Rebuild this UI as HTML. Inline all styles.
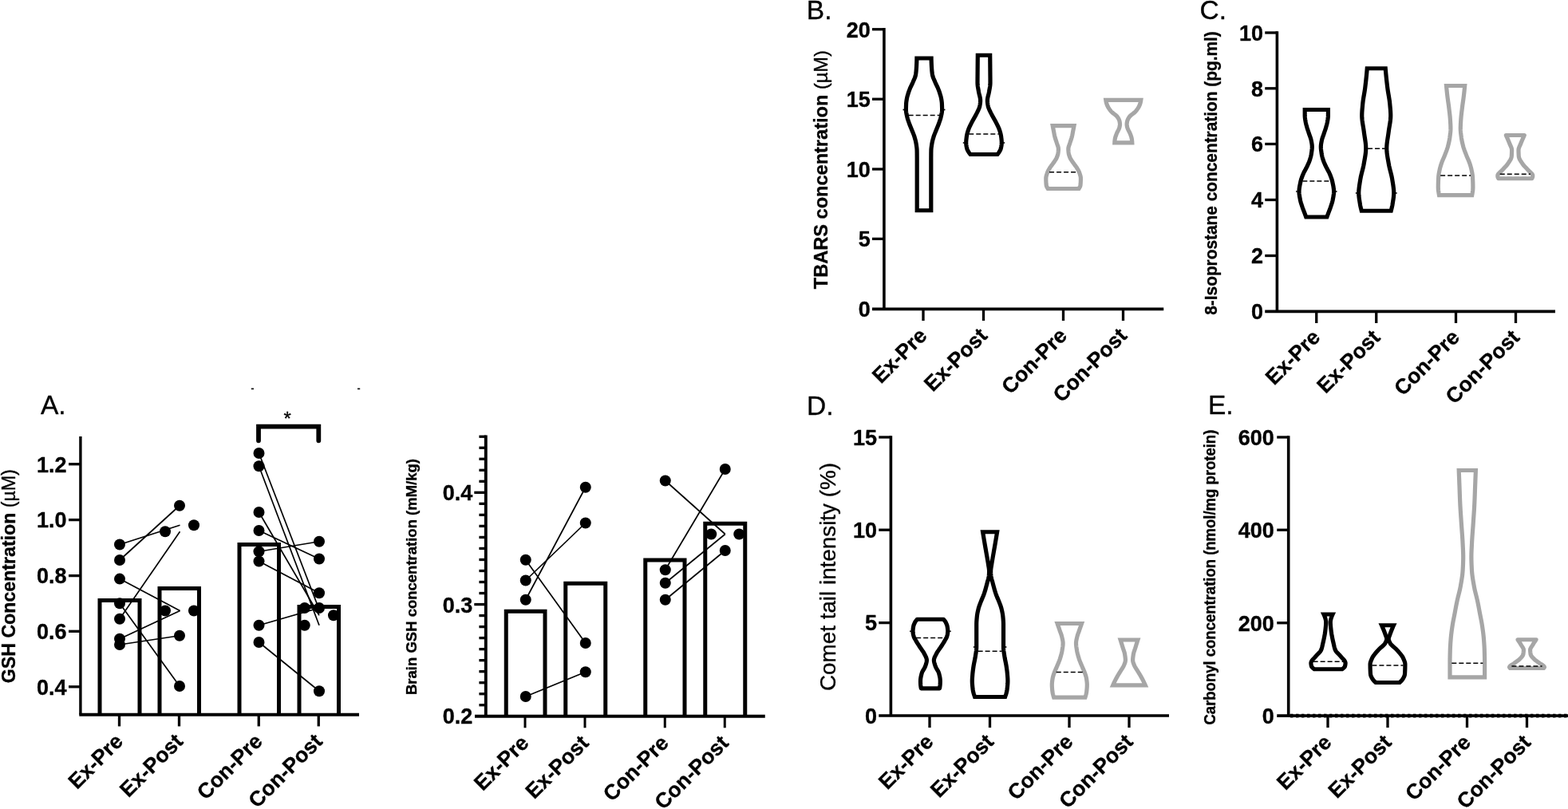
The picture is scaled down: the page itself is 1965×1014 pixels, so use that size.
<!DOCTYPE html>
<html lang="en"><head><meta charset="utf-8"><title>Figure</title>
<style>
html,body{margin:0;padding:0;background:#fff;}
body{width:1965px;height:1014px;overflow:hidden;}
svg{display:block;}
svg text{font-family:"Liberation Sans",Arial,Helvetica,sans-serif;fill:#000;stroke:#000;stroke-width:0.35px;stroke-linejoin:round;}
</style></head><body>
<svg width="1965" height="1014" viewBox="0 0 1965 1014">
<rect width="1965" height="1014" fill="#fff"/>
<text x="51.00" y="519.00" font-size="33.5" font-weight="normal" text-anchor="start" >A.</text>
<line x1="100.90" y1="546.90" x2="100.90" y2="895.75" stroke="#000" stroke-width="3.4" />
<line x1="99.30" y1="895.75" x2="450.00" y2="895.75" stroke="#000" stroke-width="4" />
<line x1="149.50" y1="895.75" x2="149.50" y2="910.40" stroke="#000" stroke-width="3.3" />
<line x1="224.50" y1="895.75" x2="224.50" y2="910.40" stroke="#000" stroke-width="3.3" />
<line x1="324.25" y1="895.75" x2="324.25" y2="910.40" stroke="#000" stroke-width="3.3" />
<line x1="399.25" y1="895.75" x2="399.25" y2="910.40" stroke="#000" stroke-width="3.3" />
<line x1="86.00" y1="581.75" x2="100.90" y2="581.75" stroke="#000" stroke-width="3.3" />
<text x="83.50" y="591.55" font-size="27" font-weight="bold" text-anchor="end" >1.2</text>
<line x1="86.00" y1="651.60" x2="100.90" y2="651.60" stroke="#000" stroke-width="3.3" />
<text x="83.50" y="661.40" font-size="27" font-weight="bold" text-anchor="end" >1.0</text>
<line x1="86.00" y1="721.60" x2="100.90" y2="721.60" stroke="#000" stroke-width="3.3" />
<text x="83.50" y="731.40" font-size="27" font-weight="bold" text-anchor="end" >0.8</text>
<line x1="86.00" y1="791.30" x2="100.90" y2="791.30" stroke="#000" stroke-width="3.3" />
<text x="83.50" y="801.10" font-size="27" font-weight="bold" text-anchor="end" >0.6</text>
<line x1="86.00" y1="860.80" x2="100.90" y2="860.80" stroke="#000" stroke-width="3.3" />
<text x="83.50" y="870.60" font-size="27" font-weight="bold" text-anchor="end" >0.4</text>
<path d="M125.00,895.75 L125.00,752.50 L175.00,752.50 L175.00,895.75" fill="none" stroke="#000" stroke-width="5" stroke-linejoin="miter"/>
<path d="M200.00,895.75 L200.00,737.50 L249.50,737.50 L249.50,895.75" fill="none" stroke="#000" stroke-width="5" stroke-linejoin="miter"/>
<path d="M300.00,895.75 L300.00,682.50 L349.50,682.50 L349.50,895.75" fill="none" stroke="#000" stroke-width="5" stroke-linejoin="miter"/>
<path d="M375.00,895.75 L375.00,760.50 L424.50,760.50 L424.50,895.75" fill="none" stroke="#000" stroke-width="5" stroke-linejoin="miter"/>
<line x1="150.00" y1="682.50" x2="225.50" y2="658.25" stroke="#000" stroke-width="1.7" />
<line x1="150.00" y1="702.00" x2="225.00" y2="633.75" stroke="#000" stroke-width="1.7" />
<line x1="150.00" y1="775.75" x2="225.50" y2="666.25" stroke="#000" stroke-width="1.7" />
<line x1="150.00" y1="725.50" x2="225.50" y2="765.50" stroke="#000" stroke-width="1.7" />
<line x1="150.00" y1="800.75" x2="225.50" y2="765.50" stroke="#000" stroke-width="1.7" />
<line x1="150.00" y1="808.00" x2="225.00" y2="796.75" stroke="#000" stroke-width="1.7" />
<line x1="150.00" y1="756.25" x2="225.00" y2="860.00" stroke="#000" stroke-width="1.7" />
<line x1="324.50" y1="568.00" x2="400.00" y2="764.00" stroke="#000" stroke-width="1.7" />
<line x1="324.50" y1="584.25" x2="400.00" y2="783.75" stroke="#000" stroke-width="1.7" />
<line x1="324.50" y1="642.00" x2="400.00" y2="771.25" stroke="#000" stroke-width="1.7" />
<line x1="324.50" y1="665.00" x2="400.00" y2="700.50" stroke="#000" stroke-width="1.7" />
<line x1="324.50" y1="691.25" x2="400.00" y2="678.75" stroke="#000" stroke-width="1.7" />
<line x1="324.50" y1="703.50" x2="400.00" y2="743.25" stroke="#000" stroke-width="1.7" />
<line x1="324.50" y1="783.75" x2="400.00" y2="762.00" stroke="#000" stroke-width="1.7" />
<line x1="324.50" y1="805.00" x2="400.00" y2="866.25" stroke="#000" stroke-width="1.7" />
<circle cx="150.00" cy="682.50" r="7" fill="#000"/>
<circle cx="150.00" cy="702.00" r="7" fill="#000"/>
<circle cx="150.00" cy="725.60" r="7" fill="#000"/>
<circle cx="150.00" cy="756.25" r="7" fill="#000"/>
<circle cx="150.00" cy="775.75" r="7" fill="#000"/>
<circle cx="150.00" cy="800.75" r="7" fill="#000"/>
<circle cx="150.00" cy="808.00" r="7" fill="#000"/>
<circle cx="225.00" cy="633.75" r="7" fill="#000"/>
<circle cx="207.00" cy="666.25" r="7" fill="#000"/>
<circle cx="243.00" cy="658.25" r="7" fill="#000"/>
<circle cx="207.00" cy="765.50" r="7" fill="#000"/>
<circle cx="243.00" cy="765.50" r="7" fill="#000"/>
<circle cx="225.00" cy="796.75" r="7" fill="#000"/>
<circle cx="225.00" cy="860.00" r="7" fill="#000"/>
<circle cx="324.50" cy="568.00" r="7" fill="#000"/>
<circle cx="324.50" cy="584.25" r="7" fill="#000"/>
<circle cx="324.50" cy="642.00" r="7" fill="#000"/>
<circle cx="324.50" cy="665.00" r="7" fill="#000"/>
<circle cx="324.50" cy="691.25" r="7" fill="#000"/>
<circle cx="324.50" cy="703.50" r="7" fill="#000"/>
<circle cx="324.50" cy="783.75" r="7" fill="#000"/>
<circle cx="324.50" cy="805.00" r="7" fill="#000"/>
<circle cx="400.00" cy="678.75" r="7" fill="#000"/>
<circle cx="400.00" cy="700.50" r="7" fill="#000"/>
<circle cx="400.00" cy="743.25" r="7" fill="#000"/>
<circle cx="381.75" cy="762.00" r="7" fill="#000"/>
<circle cx="400.00" cy="762.00" r="7" fill="#000"/>
<circle cx="418.00" cy="771.25" r="7" fill="#000"/>
<circle cx="381.75" cy="783.75" r="7" fill="#000"/>
<circle cx="400.00" cy="866.25" r="7" fill="#000"/>
<path d="M324.0,552.3 L324.0,534.7 L399.3,534.7 L399.3,552.3" fill="none" stroke="#000" stroke-width="5.8" stroke-linejoin="miter" stroke-linecap="round"/>
<text x="360.20" y="533.00" font-size="24" font-weight="normal" text-anchor="middle" >*</text>
<rect x="314.8" y="486.5" width="3.2" height="1.7" fill="#111"/><rect x="448" y="486.5" width="3.2" height="1.7" fill="#111"/>
<text x="19" y="722.2" font-size="23.5" font-weight="bold" text-anchor="middle" transform="rotate(-90 19 722.2)" textLength="268" lengthAdjust="spacingAndGlyphs">GSH Concentration <tspan font-weight="normal">(µM)</tspan></text>
<text x="155.80" y="930.75" font-size="26.5" font-weight="bold" text-anchor="end" transform="rotate(-45 155.80 930.75)" >Ex-Pre</text>
<text x="230.80" y="930.75" font-size="26.5" font-weight="bold" text-anchor="end" transform="rotate(-45 230.80 930.75)" >Ex-Post</text>
<text x="330.55" y="930.75" font-size="26.5" font-weight="bold" text-anchor="end" transform="rotate(-45 330.55 930.75)" >Con-Pre</text>
<text x="405.55" y="930.75" font-size="26.5" font-weight="bold" text-anchor="end" transform="rotate(-45 405.55 930.75)" >Con-Post</text>
<line x1="608.80" y1="545.60" x2="608.80" y2="897.75" stroke="#000" stroke-width="3.9" />
<line x1="595.00" y1="897.75" x2="958.75" y2="897.75" stroke="#000" stroke-width="4" />
<line x1="658.00" y1="897.75" x2="658.00" y2="912.25" stroke="#000" stroke-width="3" />
<line x1="733.00" y1="897.75" x2="733.00" y2="912.25" stroke="#000" stroke-width="3" />
<line x1="833.25" y1="897.75" x2="833.25" y2="912.25" stroke="#000" stroke-width="3" />
<line x1="908.25" y1="897.75" x2="908.25" y2="912.25" stroke="#000" stroke-width="3" />
<line x1="600.40" y1="547.25" x2="608.80" y2="547.25" stroke="#000" stroke-width="3.3" />
<line x1="600.40" y1="561.27" x2="608.80" y2="561.27" stroke="#000" stroke-width="3.3" />
<line x1="600.40" y1="575.29" x2="608.80" y2="575.29" stroke="#000" stroke-width="3.3" />
<line x1="600.40" y1="589.31" x2="608.80" y2="589.31" stroke="#000" stroke-width="3.3" />
<line x1="600.40" y1="603.33" x2="608.80" y2="603.33" stroke="#000" stroke-width="3.3" />
<line x1="594.30" y1="617.35" x2="608.80" y2="617.35" stroke="#000" stroke-width="3.3" />
<line x1="600.40" y1="631.37" x2="608.80" y2="631.37" stroke="#000" stroke-width="3.3" />
<line x1="600.40" y1="645.39" x2="608.80" y2="645.39" stroke="#000" stroke-width="3.3" />
<line x1="600.40" y1="659.41" x2="608.80" y2="659.41" stroke="#000" stroke-width="3.3" />
<line x1="600.40" y1="673.43" x2="608.80" y2="673.43" stroke="#000" stroke-width="3.3" />
<line x1="600.40" y1="687.45" x2="608.80" y2="687.45" stroke="#000" stroke-width="3.3" />
<line x1="600.40" y1="701.47" x2="608.80" y2="701.47" stroke="#000" stroke-width="3.3" />
<line x1="600.40" y1="715.49" x2="608.80" y2="715.49" stroke="#000" stroke-width="3.3" />
<line x1="600.40" y1="729.51" x2="608.80" y2="729.51" stroke="#000" stroke-width="3.3" />
<line x1="600.40" y1="743.53" x2="608.80" y2="743.53" stroke="#000" stroke-width="3.3" />
<line x1="594.30" y1="757.55" x2="608.80" y2="757.55" stroke="#000" stroke-width="3.3" />
<line x1="600.40" y1="771.57" x2="608.80" y2="771.57" stroke="#000" stroke-width="3.3" />
<line x1="600.40" y1="785.59" x2="608.80" y2="785.59" stroke="#000" stroke-width="3.3" />
<line x1="600.40" y1="799.61" x2="608.80" y2="799.61" stroke="#000" stroke-width="3.3" />
<line x1="600.40" y1="813.63" x2="608.80" y2="813.63" stroke="#000" stroke-width="3.3" />
<line x1="600.40" y1="827.65" x2="608.80" y2="827.65" stroke="#000" stroke-width="3.3" />
<line x1="600.40" y1="841.67" x2="608.80" y2="841.67" stroke="#000" stroke-width="3.3" />
<line x1="600.40" y1="855.69" x2="608.80" y2="855.69" stroke="#000" stroke-width="3.3" />
<line x1="600.40" y1="869.71" x2="608.80" y2="869.71" stroke="#000" stroke-width="3.3" />
<line x1="600.40" y1="883.73" x2="608.80" y2="883.73" stroke="#000" stroke-width="3.3" />
<text x="592.20" y="627.30" font-size="27" font-weight="bold" text-anchor="end" >0.4</text>
<text x="592.20" y="767.80" font-size="27" font-weight="bold" text-anchor="end" >0.3</text>
<text x="592.20" y="907.20" font-size="27" font-weight="bold" text-anchor="end" >0.2</text>
<path d="M634.25,897.75 L634.25,766.25 L683.00,766.25 L683.00,897.75" fill="none" stroke="#000" stroke-width="5" stroke-linejoin="miter"/>
<path d="M708.75,897.75 L708.75,731.25 L758.75,731.25 L758.75,897.75" fill="none" stroke="#000" stroke-width="5" stroke-linejoin="miter"/>
<path d="M808.75,897.75 L808.75,702.00 L858.00,702.00 L858.00,897.75" fill="none" stroke="#000" stroke-width="5" stroke-linejoin="miter"/>
<path d="M883.75,897.75 L883.75,656.25 L933.75,656.25 L933.75,897.75" fill="none" stroke="#000" stroke-width="5" stroke-linejoin="miter"/>
<line x1="658.75" y1="701.75" x2="733.75" y2="806.00" stroke="#000" stroke-width="1.7" />
<line x1="658.75" y1="727.50" x2="733.75" y2="655.50" stroke="#000" stroke-width="1.7" />
<line x1="658.75" y1="751.75" x2="733.75" y2="610.75" stroke="#000" stroke-width="1.7" />
<line x1="658.75" y1="873.00" x2="733.75" y2="842.25" stroke="#000" stroke-width="1.7" />
<line x1="833.75" y1="602.50" x2="908.75" y2="669.50" stroke="#000" stroke-width="1.7" />
<line x1="833.75" y1="714.25" x2="908.75" y2="588.00" stroke="#000" stroke-width="1.7" />
<line x1="833.75" y1="730.75" x2="908.75" y2="669.50" stroke="#000" stroke-width="1.7" />
<line x1="833.75" y1="751.75" x2="908.75" y2="690.00" stroke="#000" stroke-width="1.7" />
<circle cx="658.75" cy="701.75" r="7" fill="#000"/>
<circle cx="658.75" cy="727.50" r="7" fill="#000"/>
<circle cx="658.75" cy="751.75" r="7" fill="#000"/>
<circle cx="658.75" cy="873.00" r="7" fill="#000"/>
<circle cx="733.75" cy="610.75" r="7" fill="#000"/>
<circle cx="733.75" cy="655.50" r="7" fill="#000"/>
<circle cx="733.75" cy="806.00" r="7" fill="#000"/>
<circle cx="733.75" cy="842.25" r="7" fill="#000"/>
<circle cx="833.75" cy="602.50" r="7" fill="#000"/>
<circle cx="833.75" cy="714.25" r="7" fill="#000"/>
<circle cx="833.75" cy="730.75" r="7" fill="#000"/>
<circle cx="833.75" cy="751.75" r="7" fill="#000"/>
<circle cx="908.75" cy="588.00" r="7" fill="#000"/>
<circle cx="891.25" cy="669.50" r="7" fill="#000"/>
<circle cx="926.25" cy="669.50" r="7" fill="#000"/>
<circle cx="908.75" cy="690.00" r="7" fill="#000"/>
<text x="522.3" y="723" font-size="19" font-weight="bold" text-anchor="middle" transform="rotate(-90 522.3 723)" textLength="296" lengthAdjust="spacingAndGlyphs">Brain GSH concentration (mM/kg)</text>
<text x="664.30" y="932.75" font-size="26.5" font-weight="bold" text-anchor="end" transform="rotate(-45 664.30 932.75)" >Ex-Pre</text>
<text x="739.30" y="932.75" font-size="26.5" font-weight="bold" text-anchor="end" transform="rotate(-45 739.30 932.75)" >Ex-Post</text>
<text x="839.55" y="932.75" font-size="26.5" font-weight="bold" text-anchor="end" transform="rotate(-45 839.55 932.75)" >Con-Pre</text>
<text x="914.55" y="932.75" font-size="26.5" font-weight="bold" text-anchor="end" transform="rotate(-45 914.55 932.75)" >Con-Post</text>
<text x="1010.80" y="23.75" font-size="33.5" font-weight="normal" text-anchor="start" >B.</text>
<line x1="1107.90" y1="34.95" x2="1107.90" y2="387.30" stroke="#000" stroke-width="3.6" />
<line x1="1093.00" y1="387.30" x2="1458.25" y2="387.30" stroke="#000" stroke-width="3.7" />
<line x1="1157.00" y1="387.30" x2="1157.00" y2="402.00" stroke="#000" stroke-width="3.3" />
<line x1="1232.50" y1="387.30" x2="1232.50" y2="402.00" stroke="#000" stroke-width="3.3" />
<line x1="1332.50" y1="387.30" x2="1332.50" y2="402.00" stroke="#000" stroke-width="3.3" />
<line x1="1407.50" y1="387.30" x2="1407.50" y2="402.00" stroke="#000" stroke-width="3.3" />
<line x1="1093.00" y1="36.75" x2="1107.90" y2="36.75" stroke="#000" stroke-width="3.3" />
<text x="1090.70" y="46.55" font-size="27" font-weight="bold" text-anchor="end" >20</text>
<line x1="1093.00" y1="124.25" x2="1107.90" y2="124.25" stroke="#000" stroke-width="3.3" />
<text x="1090.70" y="134.05" font-size="27" font-weight="bold" text-anchor="end" >15</text>
<line x1="1093.00" y1="212.00" x2="1107.90" y2="212.00" stroke="#000" stroke-width="3.3" />
<text x="1090.70" y="221.80" font-size="27" font-weight="bold" text-anchor="end" >10</text>
<line x1="1093.00" y1="299.40" x2="1107.90" y2="299.40" stroke="#000" stroke-width="3.3" />
<text x="1090.70" y="309.20" font-size="27" font-weight="bold" text-anchor="end" >5</text>
<text x="1090.70" y="397.10" font-size="27" font-weight="bold" text-anchor="end" >0</text>
<path d="M1148.90,73.00 L1148.88,74.51 L1148.84,76.03 L1148.79,77.54 L1148.73,79.06 L1148.67,80.57 L1148.60,82.08 L1148.52,83.60 L1148.43,85.11 L1148.32,86.62 L1148.20,88.14 L1148.06,89.65 L1147.89,91.17 L1147.70,92.68 L1147.46,94.19 L1147.05,95.71 L1146.52,97.22 L1145.90,98.74 L1145.24,100.25 L1144.60,101.76 L1143.96,103.28 L1143.25,104.79 L1142.52,106.31 L1141.79,107.82 L1141.08,109.33 L1140.44,110.85 L1139.84,112.36 L1139.26,113.88 L1138.72,115.39 L1138.23,116.90 L1137.77,118.42 L1137.32,119.93 L1136.91,121.44 L1136.56,122.96 L1136.28,124.47 L1136.04,125.99 L1135.82,127.50 L1135.66,129.01 L1135.58,130.53 L1135.52,132.04 L1135.47,133.56 L1135.43,135.07 L1135.41,136.58 L1135.40,138.10 L1135.49,139.61 L1135.69,141.12 L1135.97,142.64 L1136.30,144.15 L1136.63,145.67 L1136.98,147.18 L1137.39,148.69 L1137.87,150.21 L1138.37,151.72 L1138.90,153.24 L1139.43,154.75 L1139.99,156.26 L1140.59,157.78 L1141.20,159.29 L1141.82,160.81 L1142.43,162.32 L1143.03,163.83 L1143.65,165.35 L1144.28,166.86 L1144.90,168.38 L1145.47,169.89 L1145.97,171.40 L1146.42,172.92 L1146.85,174.43 L1147.25,175.94 L1147.62,177.46 L1147.92,178.97 L1148.18,180.49 L1148.41,182.00 L1148.63,183.51 L1148.83,185.03 L1148.98,186.54 L1149.08,188.06 L1149.11,189.57 L1149.14,191.08 L1149.16,192.60 L1149.17,194.11 L1149.18,195.62 L1149.19,197.14 L1149.20,198.65 L1149.20,200.17 L1149.20,201.68 L1149.20,203.19 L1149.20,204.71 L1149.20,206.22 L1149.20,207.74 L1149.20,209.25 L1149.20,210.76 L1149.20,212.28 L1149.20,213.79 L1149.20,215.31 L1149.20,216.82 L1149.20,218.33 L1149.20,219.85 L1149.20,221.36 L1149.20,222.88 L1149.20,224.39 L1149.20,225.90 L1149.20,227.42 L1149.20,228.93 L1149.20,230.44 L1149.20,231.96 L1149.20,233.47 L1149.20,234.99 L1149.20,236.50 L1149.20,238.01 L1149.20,239.53 L1149.20,241.04 L1149.20,242.56 L1149.20,244.07 L1149.20,245.58 L1149.20,247.10 L1149.20,248.61 L1149.20,250.12 L1149.20,251.64 L1149.20,253.15 L1149.20,254.67 L1149.20,256.18 L1149.20,257.69 L1149.20,259.21 L1149.20,260.72 L1149.20,262.24 L1149.20,263.75 L1166.80,263.75 L1166.80,262.24 L1166.80,260.72 L1166.80,259.21 L1166.80,257.69 L1166.80,256.18 L1166.80,254.67 L1166.80,253.15 L1166.80,251.64 L1166.80,250.12 L1166.80,248.61 L1166.80,247.10 L1166.80,245.58 L1166.80,244.07 L1166.80,242.56 L1166.80,241.04 L1166.80,239.53 L1166.80,238.01 L1166.80,236.50 L1166.80,234.99 L1166.80,233.47 L1166.80,231.96 L1166.80,230.44 L1166.80,228.93 L1166.80,227.42 L1166.80,225.90 L1166.80,224.39 L1166.80,222.88 L1166.80,221.36 L1166.80,219.85 L1166.80,218.33 L1166.80,216.82 L1166.80,215.31 L1166.80,213.79 L1166.80,212.28 L1166.80,210.76 L1166.80,209.25 L1166.80,207.74 L1166.80,206.22 L1166.80,204.71 L1166.80,203.19 L1166.80,201.68 L1166.80,200.17 L1166.80,198.65 L1166.81,197.14 L1166.82,195.62 L1166.83,194.11 L1166.84,192.60 L1166.86,191.08 L1166.89,189.57 L1166.92,188.06 L1167.02,186.54 L1167.17,185.03 L1167.37,183.51 L1167.59,182.00 L1167.82,180.49 L1168.08,178.97 L1168.38,177.46 L1168.75,175.94 L1169.15,174.43 L1169.58,172.92 L1170.03,171.40 L1170.53,169.89 L1171.10,168.38 L1171.72,166.86 L1172.35,165.35 L1172.97,163.83 L1173.57,162.32 L1174.18,160.81 L1174.80,159.29 L1175.41,157.78 L1176.01,156.26 L1176.57,154.75 L1177.10,153.24 L1177.63,151.72 L1178.13,150.21 L1178.61,148.69 L1179.02,147.18 L1179.37,145.67 L1179.70,144.15 L1180.03,142.64 L1180.31,141.12 L1180.51,139.61 L1180.60,138.10 L1180.59,136.58 L1180.57,135.07 L1180.53,133.56 L1180.48,132.04 L1180.42,130.53 L1180.34,129.01 L1180.18,127.50 L1179.96,125.99 L1179.72,124.47 L1179.44,122.96 L1179.09,121.44 L1178.68,119.93 L1178.23,118.42 L1177.77,116.90 L1177.28,115.39 L1176.74,113.88 L1176.16,112.36 L1175.56,110.85 L1174.92,109.33 L1174.21,107.82 L1173.48,106.31 L1172.75,104.79 L1172.04,103.28 L1171.40,101.76 L1170.76,100.25 L1170.10,98.74 L1169.48,97.22 L1168.95,95.71 L1168.54,94.19 L1168.30,92.68 L1168.11,91.17 L1167.94,89.65 L1167.80,88.14 L1167.68,86.62 L1167.57,85.11 L1167.48,83.60 L1167.40,82.08 L1167.33,80.57 L1167.27,79.06 L1167.21,77.54 L1167.16,76.03 L1167.12,74.51 L1167.10,73.00 Z" fill="none" stroke="#000" stroke-width="5.2" stroke-linejoin="miter" stroke-miterlimit="10"/>
<line x1="1138.67" y1="144.50" x2="1177.33" y2="144.50" stroke="#000" stroke-width="1.7" stroke-dasharray="6 3"/>
<rect x="1131.50" y="136.70" width="1.6" height="1.6" fill="#000"/><rect x="1182.90" y="136.70" width="1.6" height="1.6" fill="#000"/>
<path d="M1225.30,69.25 L1225.28,70.78 L1225.27,72.32 L1225.25,73.85 L1225.23,75.39 L1225.22,76.92 L1225.20,78.45 L1225.19,79.99 L1225.17,81.52 L1225.16,83.06 L1225.15,84.59 L1225.13,86.12 L1225.12,87.66 L1225.11,89.19 L1225.09,90.73 L1225.08,92.26 L1225.07,93.79 L1225.05,95.33 L1225.04,96.86 L1225.02,98.40 L1225.01,99.93 L1225.01,101.46 L1225.00,103.00 L1225.01,104.53 L1225.09,106.06 L1225.25,107.60 L1225.47,109.13 L1225.73,110.67 L1226.01,112.20 L1226.29,113.73 L1226.54,115.27 L1226.85,116.80 L1227.22,118.34 L1227.61,119.87 L1227.98,121.40 L1228.30,122.94 L1228.52,124.47 L1228.60,126.01 L1228.55,127.54 L1228.41,129.07 L1228.20,130.61 L1227.95,132.14 L1227.66,133.68 L1227.17,135.21 L1226.53,136.74 L1225.81,138.28 L1225.09,139.81 L1224.36,141.35 L1223.57,142.88 L1222.74,144.41 L1221.90,145.95 L1221.06,147.48 L1220.23,149.02 L1219.38,150.55 L1218.53,152.08 L1217.70,153.62 L1216.93,155.15 L1216.17,156.69 L1215.41,158.22 L1214.70,159.75 L1214.05,161.29 L1213.49,162.82 L1213.00,164.35 L1212.53,165.89 L1212.11,167.42 L1211.75,168.96 L1211.47,170.49 L1211.27,172.02 L1211.08,173.56 L1210.91,175.09 L1210.78,176.63 L1210.71,178.16 L1210.71,179.69 L1210.83,181.23 L1211.04,182.76 L1211.33,184.30 L1211.66,185.83 L1212.12,187.36 L1212.83,188.90 L1213.75,190.43 L1214.82,191.97 L1216.00,193.50 L1250.00,193.50 L1251.18,191.97 L1252.25,190.43 L1253.17,188.90 L1253.88,187.36 L1254.34,185.83 L1254.67,184.30 L1254.96,182.76 L1255.17,181.23 L1255.29,179.69 L1255.29,178.16 L1255.22,176.63 L1255.09,175.09 L1254.92,173.56 L1254.73,172.02 L1254.53,170.49 L1254.25,168.96 L1253.89,167.42 L1253.47,165.89 L1253.00,164.35 L1252.51,162.82 L1251.95,161.29 L1251.30,159.75 L1250.59,158.22 L1249.83,156.69 L1249.07,155.15 L1248.30,153.62 L1247.47,152.08 L1246.62,150.55 L1245.77,149.02 L1244.94,147.48 L1244.10,145.95 L1243.26,144.41 L1242.43,142.88 L1241.64,141.35 L1240.91,139.81 L1240.19,138.28 L1239.47,136.74 L1238.83,135.21 L1238.34,133.68 L1238.05,132.14 L1237.80,130.61 L1237.59,129.07 L1237.45,127.54 L1237.40,126.01 L1237.48,124.47 L1237.70,122.94 L1238.02,121.40 L1238.39,119.87 L1238.78,118.34 L1239.15,116.80 L1239.46,115.27 L1239.71,113.73 L1239.99,112.20 L1240.27,110.67 L1240.53,109.13 L1240.75,107.60 L1240.91,106.06 L1240.99,104.53 L1241.00,103.00 L1240.99,101.46 L1240.99,99.93 L1240.98,98.40 L1240.96,96.86 L1240.95,95.33 L1240.93,93.79 L1240.92,92.26 L1240.91,90.73 L1240.89,89.19 L1240.88,87.66 L1240.87,86.12 L1240.85,84.59 L1240.84,83.06 L1240.83,81.52 L1240.81,79.99 L1240.80,78.45 L1240.78,76.92 L1240.77,75.39 L1240.75,73.85 L1240.73,72.32 L1240.72,70.78 L1240.70,69.25 Z" fill="none" stroke="#000" stroke-width="5.2" stroke-linejoin="miter" stroke-miterlimit="10"/>
<line x1="1214.27" y1="168.00" x2="1251.73" y2="168.00" stroke="#000" stroke-width="1.7" stroke-dasharray="6 3"/>
<rect x="1206.80" y="178.20" width="1.6" height="1.6" fill="#000"/><rect x="1257.60" y="178.20" width="1.6" height="1.6" fill="#000"/>
<path d="M1319.20,157.60 L1319.49,159.15 L1319.78,160.69 L1320.07,162.24 L1320.37,163.79 L1320.66,165.34 L1320.95,166.88 L1321.24,168.43 L1321.55,169.98 L1321.91,171.52 L1322.34,173.07 L1322.84,174.62 L1323.37,176.16 L1323.90,177.71 L1324.38,179.26 L1324.90,180.81 L1325.46,182.35 L1325.96,183.90 L1326.30,185.45 L1326.40,186.99 L1326.34,188.54 L1326.21,190.09 L1326.04,191.64 L1325.79,193.18 L1325.35,194.73 L1324.79,196.28 L1324.16,197.82 L1323.36,199.37 L1322.40,200.92 L1321.35,202.46 L1320.29,204.01 L1319.19,205.56 L1318.01,207.11 L1316.84,208.65 L1315.78,210.20 L1314.86,211.75 L1313.97,213.29 L1313.17,214.84 L1312.51,216.39 L1312.00,217.94 L1311.51,219.48 L1311.10,221.03 L1310.85,222.58 L1310.80,224.12 L1310.82,225.67 L1310.87,227.22 L1310.95,228.76 L1311.04,230.31 L1311.17,231.86 L1311.49,233.41 L1312.26,234.95 L1313.20,236.50 L1352.00,236.50 L1352.94,234.95 L1353.71,233.41 L1354.03,231.86 L1354.16,230.31 L1354.25,228.76 L1354.33,227.22 L1354.38,225.67 L1354.40,224.12 L1354.35,222.58 L1354.10,221.03 L1353.69,219.48 L1353.20,217.94 L1352.69,216.39 L1352.03,214.84 L1351.23,213.29 L1350.34,211.75 L1349.42,210.20 L1348.36,208.65 L1347.19,207.11 L1346.01,205.56 L1344.91,204.01 L1343.85,202.46 L1342.80,200.92 L1341.84,199.37 L1341.04,197.82 L1340.41,196.28 L1339.85,194.73 L1339.41,193.18 L1339.16,191.64 L1338.99,190.09 L1338.86,188.54 L1338.80,186.99 L1338.90,185.45 L1339.24,183.90 L1339.74,182.35 L1340.30,180.81 L1340.82,179.26 L1341.30,177.71 L1341.83,176.16 L1342.36,174.62 L1342.86,173.07 L1343.29,171.52 L1343.65,169.98 L1343.96,168.43 L1344.25,166.88 L1344.54,165.34 L1344.83,163.79 L1345.13,162.24 L1345.42,160.69 L1345.71,159.15 L1346.00,157.60 Z" fill="none" stroke="#a6a6a6" stroke-width="5.2" stroke-linejoin="miter" stroke-miterlimit="10"/>
<line x1="1315.06" y1="215.75" x2="1350.14" y2="215.75" stroke="#000" stroke-width="1.7" stroke-dasharray="6 3"/>
<path d="M1385.80,125.40 L1386.03,126.97 L1386.39,128.55 L1386.84,130.12 L1387.41,131.69 L1388.14,133.27 L1389.01,134.84 L1390.00,136.41 L1391.08,137.99 L1392.33,139.56 L1394.07,141.14 L1396.08,142.71 L1398.08,144.28 L1399.78,145.86 L1400.93,147.43 L1401.85,149.00 L1402.58,150.58 L1403.03,152.15 L1403.31,153.72 L1403.48,155.30 L1403.45,156.87 L1403.18,158.44 L1402.80,160.02 L1402.26,161.59 L1401.51,163.16 L1400.66,164.74 L1399.86,166.31 L1399.22,167.89 L1398.62,169.46 L1398.05,171.03 L1397.59,172.61 L1397.27,174.18 L1397.05,175.75 L1396.88,177.33 L1396.80,178.90 L1418.80,178.90 L1418.72,177.33 L1418.55,175.75 L1418.33,174.18 L1418.01,172.61 L1417.55,171.03 L1416.98,169.46 L1416.38,167.89 L1415.74,166.31 L1414.94,164.74 L1414.09,163.16 L1413.34,161.59 L1412.80,160.02 L1412.42,158.44 L1412.15,156.87 L1412.12,155.30 L1412.29,153.72 L1412.57,152.15 L1413.02,150.58 L1413.75,149.00 L1414.67,147.43 L1415.82,145.86 L1417.52,144.28 L1419.52,142.71 L1421.53,141.14 L1423.27,139.56 L1424.52,137.99 L1425.60,136.41 L1426.59,134.84 L1427.46,133.27 L1428.19,131.69 L1428.76,130.12 L1429.21,128.55 L1429.57,126.97 L1429.80,125.40 Z" fill="none" stroke="#a6a6a6" stroke-width="5.2" stroke-linejoin="miter" stroke-miterlimit="10"/>
<text x="1037.5" y="212.7" font-size="24.5" font-weight="bold" text-anchor="middle" transform="rotate(-90 1037.5 212.7)" textLength="299" lengthAdjust="spacingAndGlyphs">TBARS concentration <tspan font-weight="normal">(µM)</tspan></text>
<text x="1163.30" y="422.30" font-size="26.5" font-weight="bold" text-anchor="end" transform="rotate(-45 1163.30 422.30)" >Ex-Pre</text>
<text x="1238.80" y="422.30" font-size="26.5" font-weight="bold" text-anchor="end" transform="rotate(-45 1238.80 422.30)" >Ex-Post</text>
<text x="1338.80" y="422.30" font-size="26.5" font-weight="bold" text-anchor="end" transform="rotate(-45 1338.80 422.30)" >Con-Pre</text>
<text x="1413.80" y="422.30" font-size="26.5" font-weight="bold" text-anchor="end" transform="rotate(-45 1413.80 422.30)" >Con-Post</text>
<text x="1503.50" y="23.75" font-size="33.5" font-weight="normal" text-anchor="start" >C.</text>
<line x1="1600.40" y1="39.20" x2="1600.40" y2="390.40" stroke="#000" stroke-width="3.6" />
<line x1="1585.25" y1="390.40" x2="1949.00" y2="390.40" stroke="#000" stroke-width="3.7" />
<line x1="1649.75" y1="390.40" x2="1649.75" y2="405.00" stroke="#000" stroke-width="3.3" />
<line x1="1724.75" y1="390.40" x2="1724.75" y2="405.00" stroke="#000" stroke-width="3.3" />
<line x1="1824.50" y1="390.40" x2="1824.50" y2="405.00" stroke="#000" stroke-width="3.3" />
<line x1="1899.50" y1="390.40" x2="1899.50" y2="405.00" stroke="#000" stroke-width="3.3" />
<line x1="1585.25" y1="41.00" x2="1600.40" y2="41.00" stroke="#000" stroke-width="3.3" />
<text x="1583.00" y="50.80" font-size="27" font-weight="bold" text-anchor="end" >10</text>
<line x1="1585.25" y1="110.80" x2="1600.40" y2="110.80" stroke="#000" stroke-width="3.3" />
<text x="1583.00" y="120.60" font-size="27" font-weight="bold" text-anchor="end" >8</text>
<line x1="1585.25" y1="180.50" x2="1600.40" y2="180.50" stroke="#000" stroke-width="3.3" />
<text x="1583.00" y="190.30" font-size="27" font-weight="bold" text-anchor="end" >6</text>
<line x1="1585.25" y1="250.50" x2="1600.40" y2="250.50" stroke="#000" stroke-width="3.3" />
<text x="1583.00" y="260.30" font-size="27" font-weight="bold" text-anchor="end" >4</text>
<line x1="1585.25" y1="320.50" x2="1600.40" y2="320.50" stroke="#000" stroke-width="3.3" />
<text x="1583.00" y="330.30" font-size="27" font-weight="bold" text-anchor="end" >2</text>
<text x="1583.00" y="400.20" font-size="27" font-weight="bold" text-anchor="end" >0</text>
<path d="M1635.20,137.50 L1635.20,139.03 L1635.20,140.56 L1635.20,142.09 L1635.20,143.61 L1635.20,145.14 L1635.27,146.67 L1635.43,148.20 L1635.65,149.73 L1635.91,151.26 L1636.17,152.78 L1636.47,154.31 L1636.84,155.84 L1637.25,157.37 L1637.69,158.90 L1638.12,160.43 L1638.60,161.95 L1639.10,163.48 L1639.63,165.01 L1640.15,166.54 L1640.66,168.07 L1641.19,169.60 L1641.75,171.12 L1642.28,172.65 L1642.76,174.18 L1643.14,175.71 L1643.44,177.24 L1643.73,178.77 L1643.99,180.30 L1644.18,181.82 L1644.29,183.35 L1644.29,184.88 L1644.20,186.41 L1644.05,187.94 L1643.86,189.47 L1643.64,190.99 L1643.42,192.52 L1643.15,194.05 L1642.81,195.58 L1642.43,197.11 L1642.00,198.64 L1641.55,200.16 L1641.03,201.69 L1640.43,203.22 L1639.77,204.75 L1639.08,206.28 L1638.36,207.81 L1637.64,209.34 L1636.86,210.86 L1636.02,212.39 L1635.18,213.92 L1634.36,215.45 L1633.63,216.98 L1632.98,218.51 L1632.36,220.03 L1631.77,221.56 L1631.21,223.09 L1630.69,224.62 L1630.25,226.15 L1629.87,227.68 L1629.55,229.20 L1629.23,230.73 L1628.92,232.26 L1628.64,233.79 L1628.40,235.32 L1628.20,236.85 L1628.07,238.38 L1628.00,239.90 L1628.03,241.43 L1628.14,242.96 L1628.33,244.49 L1628.57,246.02 L1628.84,247.55 L1629.13,249.07 L1629.42,250.60 L1629.77,252.13 L1630.19,253.66 L1630.66,255.19 L1631.15,256.72 L1631.65,258.24 L1632.16,259.77 L1632.71,261.30 L1633.29,262.83 L1633.88,264.36 L1634.46,265.89 L1635.02,267.41 L1635.58,268.94 L1636.14,270.47 L1636.70,272.00 L1662.90,272.00 L1663.46,270.47 L1664.02,268.94 L1664.58,267.41 L1665.14,265.89 L1665.72,264.36 L1666.31,262.83 L1666.89,261.30 L1667.44,259.77 L1667.95,258.24 L1668.45,256.72 L1668.94,255.19 L1669.41,253.66 L1669.83,252.13 L1670.18,250.60 L1670.47,249.07 L1670.76,247.55 L1671.03,246.02 L1671.27,244.49 L1671.46,242.96 L1671.57,241.43 L1671.60,239.90 L1671.53,238.38 L1671.40,236.85 L1671.20,235.32 L1670.96,233.79 L1670.68,232.26 L1670.37,230.73 L1670.05,229.20 L1669.73,227.68 L1669.35,226.15 L1668.91,224.62 L1668.39,223.09 L1667.83,221.56 L1667.24,220.03 L1666.62,218.51 L1665.97,216.98 L1665.24,215.45 L1664.42,213.92 L1663.58,212.39 L1662.74,210.86 L1661.96,209.34 L1661.24,207.81 L1660.52,206.28 L1659.83,204.75 L1659.17,203.22 L1658.57,201.69 L1658.05,200.16 L1657.60,198.64 L1657.17,197.11 L1656.79,195.58 L1656.45,194.05 L1656.18,192.52 L1655.96,190.99 L1655.74,189.47 L1655.55,187.94 L1655.40,186.41 L1655.31,184.88 L1655.31,183.35 L1655.42,181.82 L1655.61,180.30 L1655.87,178.77 L1656.16,177.24 L1656.46,175.71 L1656.84,174.18 L1657.32,172.65 L1657.85,171.12 L1658.41,169.60 L1658.94,168.07 L1659.45,166.54 L1659.97,165.01 L1660.50,163.48 L1661.00,161.95 L1661.48,160.43 L1661.91,158.90 L1662.35,157.37 L1662.76,155.84 L1663.13,154.31 L1663.43,152.78 L1663.69,151.26 L1663.95,149.73 L1664.17,148.20 L1664.33,146.67 L1664.40,145.14 L1664.40,143.61 L1664.40,142.09 L1664.40,140.56 L1664.40,139.03 L1664.40,137.50 Z" fill="none" stroke="#000" stroke-width="5.2" stroke-linejoin="miter" stroke-miterlimit="10"/>
<line x1="1632.33" y1="227.00" x2="1667.27" y2="227.00" stroke="#000" stroke-width="1.7" stroke-dasharray="6 3"/>
<rect x="1624.10" y="239.20" width="1.6" height="1.6" fill="#000"/><rect x="1673.90" y="239.20" width="1.6" height="1.6" fill="#000"/>
<path d="M1713.25,85.75 L1713.13,87.26 L1713.00,88.78 L1712.87,90.29 L1712.74,91.80 L1712.59,93.31 L1712.45,94.83 L1712.30,96.34 L1712.14,97.85 L1711.98,99.36 L1711.82,100.88 L1711.65,102.39 L1711.48,103.90 L1711.30,105.42 L1711.12,106.93 L1710.94,108.44 L1710.76,109.95 L1710.56,111.47 L1710.34,112.98 L1710.10,114.49 L1709.85,116.00 L1709.60,117.52 L1709.34,119.03 L1709.08,120.54 L1708.82,122.06 L1708.58,123.57 L1708.35,125.08 L1708.13,126.59 L1707.95,128.11 L1707.79,129.62 L1707.65,131.13 L1707.51,132.64 L1707.37,134.16 L1707.23,135.67 L1707.10,137.18 L1706.99,138.69 L1706.90,140.21 L1706.82,141.72 L1706.77,143.23 L1706.75,144.75 L1706.77,146.26 L1706.84,147.77 L1706.96,149.28 L1707.11,150.80 L1707.30,152.31 L1707.51,153.82 L1707.75,155.33 L1707.99,156.85 L1708.24,158.36 L1708.50,159.87 L1708.74,161.39 L1708.97,162.90 L1709.18,164.41 L1709.37,165.92 L1709.58,167.44 L1709.80,168.95 L1710.03,170.46 L1710.27,171.97 L1710.51,173.49 L1710.75,175.00 L1710.97,176.51 L1711.17,178.03 L1711.35,179.54 L1711.51,181.05 L1711.63,182.56 L1711.71,184.08 L1711.75,185.59 L1711.74,187.10 L1711.67,188.61 L1711.56,190.13 L1711.41,191.64 L1711.23,193.15 L1711.02,194.67 L1710.79,196.18 L1710.53,197.69 L1710.27,199.20 L1710.00,200.72 L1709.73,202.23 L1709.46,203.74 L1709.21,205.25 L1708.93,206.77 L1708.62,208.28 L1708.27,209.79 L1707.91,211.31 L1707.53,212.82 L1707.14,214.33 L1706.75,215.84 L1706.37,217.36 L1706.00,218.87 L1705.64,220.38 L1705.31,221.89 L1705.02,223.41 L1704.76,224.92 L1704.53,226.43 L1704.28,227.94 L1704.04,229.46 L1703.80,230.97 L1703.57,232.48 L1703.36,234.00 L1703.17,235.51 L1703.01,237.02 L1702.88,238.53 L1702.79,240.05 L1702.75,241.56 L1702.77,243.07 L1702.84,244.58 L1702.97,246.10 L1703.14,247.61 L1703.34,249.12 L1703.56,250.64 L1703.80,252.15 L1704.04,253.66 L1704.28,255.17 L1704.53,256.69 L1704.82,258.20 L1705.15,259.71 L1705.50,261.22 L1705.87,262.74 L1706.25,264.25 L1743.25,264.25 L1743.63,262.74 L1744.00,261.22 L1744.35,259.71 L1744.68,258.20 L1744.97,256.69 L1745.22,255.17 L1745.46,253.66 L1745.70,252.15 L1745.94,250.64 L1746.16,249.12 L1746.36,247.61 L1746.53,246.10 L1746.66,244.58 L1746.73,243.07 L1746.75,241.56 L1746.71,240.05 L1746.62,238.53 L1746.49,237.02 L1746.33,235.51 L1746.14,234.00 L1745.93,232.48 L1745.70,230.97 L1745.46,229.46 L1745.22,227.94 L1744.97,226.43 L1744.74,224.92 L1744.48,223.41 L1744.19,221.89 L1743.86,220.38 L1743.50,218.87 L1743.13,217.36 L1742.75,215.84 L1742.36,214.33 L1741.97,212.82 L1741.59,211.31 L1741.23,209.79 L1740.88,208.28 L1740.57,206.77 L1740.29,205.25 L1740.04,203.74 L1739.77,202.23 L1739.50,200.72 L1739.23,199.20 L1738.97,197.69 L1738.71,196.18 L1738.48,194.67 L1738.27,193.15 L1738.09,191.64 L1737.94,190.13 L1737.83,188.61 L1737.76,187.10 L1737.75,185.59 L1737.79,184.08 L1737.87,182.56 L1737.99,181.05 L1738.15,179.54 L1738.33,178.03 L1738.53,176.51 L1738.75,175.00 L1738.99,173.49 L1739.23,171.97 L1739.47,170.46 L1739.70,168.95 L1739.92,167.44 L1740.13,165.92 L1740.32,164.41 L1740.53,162.90 L1740.76,161.39 L1741.00,159.87 L1741.26,158.36 L1741.51,156.85 L1741.75,155.33 L1741.99,153.82 L1742.20,152.31 L1742.39,150.80 L1742.54,149.28 L1742.66,147.77 L1742.73,146.26 L1742.75,144.75 L1742.73,143.23 L1742.68,141.72 L1742.60,140.21 L1742.51,138.69 L1742.40,137.18 L1742.27,135.67 L1742.13,134.16 L1741.99,132.64 L1741.85,131.13 L1741.71,129.62 L1741.55,128.11 L1741.37,126.59 L1741.15,125.08 L1740.92,123.57 L1740.68,122.06 L1740.42,120.54 L1740.16,119.03 L1739.90,117.52 L1739.65,116.00 L1739.40,114.49 L1739.16,112.98 L1738.94,111.47 L1738.74,109.95 L1738.56,108.44 L1738.38,106.93 L1738.20,105.42 L1738.02,103.90 L1737.85,102.39 L1737.68,100.88 L1737.52,99.36 L1737.36,97.85 L1737.20,96.34 L1737.05,94.83 L1736.91,93.31 L1736.76,91.80 L1736.63,90.29 L1736.50,88.78 L1736.37,87.26 L1736.25,85.75 Z" fill="none" stroke="#000" stroke-width="5.2" stroke-linejoin="miter" stroke-miterlimit="10"/>
<line x1="1714.05" y1="186.25" x2="1735.45" y2="186.25" stroke="#000" stroke-width="1.7" stroke-dasharray="6 3"/>
<rect x="1698.85" y="241.20" width="1.6" height="1.6" fill="#000"/><rect x="1749.05" y="241.20" width="1.6" height="1.6" fill="#000"/>
<path d="M1812.50,107.50 L1812.64,109.02 L1812.79,110.55 L1812.94,112.07 L1813.09,113.60 L1813.25,115.12 L1813.42,116.65 L1813.59,118.17 L1813.76,119.70 L1813.95,121.22 L1814.14,122.74 L1814.35,124.27 L1814.56,125.79 L1814.77,127.32 L1814.99,128.84 L1815.20,130.37 L1815.41,131.89 L1815.60,133.42 L1815.79,134.94 L1815.98,136.46 L1816.16,137.99 L1816.35,139.51 L1816.53,141.04 L1816.71,142.56 L1816.88,144.09 L1817.04,145.61 L1817.18,147.14 L1817.31,148.66 L1817.41,150.18 L1817.51,151.71 L1817.60,153.23 L1817.70,154.76 L1817.78,156.28 L1817.84,157.81 L1817.88,159.33 L1817.90,160.86 L1817.88,162.38 L1817.80,163.90 L1817.68,165.43 L1817.52,166.95 L1817.35,168.48 L1817.16,170.00 L1816.96,171.53 L1816.76,173.05 L1816.52,174.58 L1816.24,176.10 L1815.93,177.62 L1815.59,179.15 L1815.23,180.67 L1814.85,182.20 L1814.45,183.72 L1814.00,185.25 L1813.49,186.77 L1812.96,188.30 L1812.39,189.82 L1811.81,191.34 L1811.23,192.87 L1810.65,194.39 L1810.03,195.92 L1809.38,197.44 L1808.72,198.97 L1808.05,200.49 L1807.42,202.02 L1806.83,203.54 L1806.31,205.06 L1805.82,206.59 L1805.35,208.11 L1804.91,209.64 L1804.51,211.16 L1804.17,212.69 L1803.85,214.21 L1803.54,215.74 L1803.26,217.26 L1803.01,218.78 L1802.82,220.31 L1802.70,221.83 L1802.62,223.36 L1802.55,224.88 L1802.48,226.41 L1802.43,227.93 L1802.38,229.46 L1802.34,230.98 L1802.32,232.50 L1802.30,234.03 L1802.31,235.55 L1802.38,237.08 L1802.52,238.60 L1802.72,240.13 L1802.95,241.65 L1803.22,243.18 L1803.50,244.70 L1844.70,244.70 L1844.98,243.18 L1845.25,241.65 L1845.48,240.13 L1845.68,238.60 L1845.82,237.08 L1845.89,235.55 L1845.90,234.03 L1845.88,232.50 L1845.86,230.98 L1845.82,229.46 L1845.77,227.93 L1845.72,226.41 L1845.65,224.88 L1845.58,223.36 L1845.50,221.83 L1845.38,220.31 L1845.19,218.78 L1844.94,217.26 L1844.66,215.74 L1844.35,214.21 L1844.03,212.69 L1843.69,211.16 L1843.29,209.64 L1842.85,208.11 L1842.38,206.59 L1841.89,205.06 L1841.37,203.54 L1840.78,202.02 L1840.15,200.49 L1839.48,198.97 L1838.82,197.44 L1838.17,195.92 L1837.55,194.39 L1836.97,192.87 L1836.39,191.34 L1835.81,189.82 L1835.24,188.30 L1834.71,186.77 L1834.20,185.25 L1833.75,183.72 L1833.35,182.20 L1832.97,180.67 L1832.61,179.15 L1832.27,177.62 L1831.96,176.10 L1831.68,174.58 L1831.44,173.05 L1831.24,171.53 L1831.04,170.00 L1830.85,168.48 L1830.68,166.95 L1830.52,165.43 L1830.40,163.90 L1830.32,162.38 L1830.30,160.86 L1830.32,159.33 L1830.36,157.81 L1830.42,156.28 L1830.50,154.76 L1830.60,153.23 L1830.69,151.71 L1830.79,150.18 L1830.89,148.66 L1831.02,147.14 L1831.16,145.61 L1831.32,144.09 L1831.49,142.56 L1831.67,141.04 L1831.85,139.51 L1832.04,137.99 L1832.22,136.46 L1832.41,134.94 L1832.60,133.42 L1832.79,131.89 L1833.00,130.37 L1833.21,128.84 L1833.43,127.32 L1833.64,125.79 L1833.85,124.27 L1834.06,122.74 L1834.25,121.22 L1834.44,119.70 L1834.61,118.17 L1834.78,116.65 L1834.95,115.12 L1835.11,113.60 L1835.26,112.07 L1835.41,110.55 L1835.56,109.02 L1835.70,107.50 Z" fill="none" stroke="#a6a6a6" stroke-width="5.2" stroke-linejoin="miter" stroke-miterlimit="10"/>
<line x1="1805.15" y1="220.00" x2="1843.05" y2="220.00" stroke="#000" stroke-width="1.7" stroke-dasharray="6 3"/>
<path d="M1887.30,169.50 L1888.02,171.05 L1888.73,172.60 L1889.41,174.15 L1890.07,175.70 L1890.71,177.25 L1891.33,178.80 L1891.94,180.35 L1892.62,181.90 L1893.34,183.45 L1893.98,185.00 L1894.44,186.55 L1894.60,188.10 L1894.59,189.65 L1894.55,191.20 L1894.49,192.75 L1894.41,194.30 L1894.31,195.85 L1894.06,197.40 L1893.49,198.95 L1892.69,200.50 L1891.74,202.05 L1890.72,203.60 L1889.70,205.15 L1888.56,206.70 L1887.22,208.25 L1885.77,209.80 L1884.30,211.35 L1882.89,212.90 L1881.35,214.45 L1879.59,216.00 L1878.01,217.55 L1876.98,219.10 L1876.82,220.65 L1877.08,222.20 L1877.80,223.75 L1919.80,223.75 L1920.52,222.20 L1920.78,220.65 L1920.62,219.10 L1919.59,217.55 L1918.01,216.00 L1916.25,214.45 L1914.71,212.90 L1913.30,211.35 L1911.83,209.80 L1910.38,208.25 L1909.04,206.70 L1907.90,205.15 L1906.88,203.60 L1905.86,202.05 L1904.91,200.50 L1904.11,198.95 L1903.54,197.40 L1903.29,195.85 L1903.19,194.30 L1903.11,192.75 L1903.05,191.20 L1903.01,189.65 L1903.00,188.10 L1903.16,186.55 L1903.62,185.00 L1904.26,183.45 L1904.98,181.90 L1905.66,180.35 L1906.27,178.80 L1906.89,177.25 L1907.53,175.70 L1908.19,174.15 L1908.87,172.60 L1909.58,171.05 L1910.30,169.50 Z" fill="none" stroke="#a6a6a6" stroke-width="5.2" stroke-linejoin="round" stroke-miterlimit="10"/>
<line x1="1879.75" y1="218.25" x2="1917.85" y2="218.25" stroke="#000" stroke-width="1.7" stroke-dasharray="6 3"/>
<text x="1525" y="217" font-size="21.5" font-weight="bold" text-anchor="middle" transform="rotate(-90 1525 217)" textLength="355.5" lengthAdjust="spacingAndGlyphs">8-Isoprostane concentration (pg.ml)</text>
<text x="1656.05" y="424.40" font-size="26.5" font-weight="bold" text-anchor="end" transform="rotate(-45 1656.05 424.40)" >Ex-Pre</text>
<text x="1731.05" y="424.40" font-size="26.5" font-weight="bold" text-anchor="end" transform="rotate(-45 1731.05 424.40)" >Ex-Post</text>
<text x="1830.80" y="424.40" font-size="26.5" font-weight="bold" text-anchor="end" transform="rotate(-45 1830.80 424.40)" >Con-Pre</text>
<text x="1905.80" y="424.40" font-size="26.5" font-weight="bold" text-anchor="end" transform="rotate(-45 1905.80 424.40)" >Con-Post</text>
<text x="1011.00" y="520.00" font-size="33.5" font-weight="normal" text-anchor="start" >D.</text>
<line x1="1116.40" y1="546.20" x2="1116.40" y2="897.00" stroke="#000" stroke-width="3.6" />
<line x1="1101.25" y1="897.00" x2="1465.00" y2="897.00" stroke="#000" stroke-width="3.7" />
<line x1="1165.00" y1="897.00" x2="1165.00" y2="912.00" stroke="#000" stroke-width="3.3" />
<line x1="1240.50" y1="897.00" x2="1240.50" y2="912.00" stroke="#000" stroke-width="3.3" />
<line x1="1340.00" y1="897.00" x2="1340.00" y2="912.00" stroke="#000" stroke-width="3.3" />
<line x1="1415.00" y1="897.00" x2="1415.00" y2="912.00" stroke="#000" stroke-width="3.3" />
<line x1="1101.25" y1="548.00" x2="1116.40" y2="548.00" stroke="#000" stroke-width="3.3" />
<text x="1099.00" y="557.80" font-size="27" font-weight="bold" text-anchor="end" >15</text>
<line x1="1101.25" y1="664.20" x2="1116.40" y2="664.20" stroke="#000" stroke-width="3.3" />
<text x="1099.00" y="674.00" font-size="27" font-weight="bold" text-anchor="end" >10</text>
<line x1="1101.25" y1="780.60" x2="1116.40" y2="780.60" stroke="#000" stroke-width="3.3" />
<text x="1099.00" y="790.40" font-size="27" font-weight="bold" text-anchor="end" >5</text>
<text x="1099.00" y="906.80" font-size="27" font-weight="bold" text-anchor="end" >0</text>
<path d="M1149.40,776.25 L1148.11,777.80 L1147.00,779.34 L1146.15,780.89 L1145.50,782.43 L1144.96,783.98 L1144.58,785.52 L1144.35,787.07 L1144.16,788.61 L1144.03,790.16 L1144.01,791.71 L1144.14,793.25 L1144.40,794.80 L1144.75,796.34 L1145.16,797.89 L1145.81,799.43 L1146.64,800.98 L1147.54,802.52 L1148.44,804.07 L1149.34,805.62 L1150.31,807.16 L1151.31,808.71 L1152.31,810.25 L1153.33,811.80 L1154.41,813.34 L1155.52,814.89 L1156.59,816.43 L1157.56,817.98 L1158.36,819.52 L1159.17,821.07 L1159.97,822.62 L1160.66,824.16 L1161.17,825.71 L1161.40,827.25 L1161.32,828.80 L1161.03,830.34 L1160.61,831.89 L1160.12,833.43 L1159.61,834.98 L1158.97,836.53 L1158.13,838.07 L1157.20,839.62 L1156.30,841.16 L1155.54,842.71 L1155.04,844.25 L1154.65,845.80 L1154.29,847.34 L1153.97,848.89 L1153.72,850.44 L1153.56,851.98 L1153.50,853.53 L1153.51,855.07 L1153.56,856.62 L1153.65,858.16 L1153.80,859.71 L1154.01,861.25 L1154.30,862.80 L1177.50,862.80 L1177.79,861.25 L1178.00,859.71 L1178.15,858.16 L1178.24,856.62 L1178.29,855.07 L1178.30,853.53 L1178.24,851.98 L1178.08,850.44 L1177.83,848.89 L1177.51,847.34 L1177.15,845.80 L1176.76,844.25 L1176.26,842.71 L1175.50,841.16 L1174.60,839.62 L1173.67,838.07 L1172.83,836.53 L1172.19,834.98 L1171.68,833.43 L1171.19,831.89 L1170.77,830.34 L1170.48,828.80 L1170.40,827.25 L1170.63,825.71 L1171.14,824.16 L1171.83,822.62 L1172.63,821.07 L1173.44,819.52 L1174.24,817.98 L1175.21,816.43 L1176.28,814.89 L1177.39,813.34 L1178.47,811.80 L1179.49,810.25 L1180.49,808.71 L1181.49,807.16 L1182.46,805.62 L1183.36,804.07 L1184.26,802.52 L1185.16,800.98 L1185.99,799.43 L1186.64,797.89 L1187.05,796.34 L1187.40,794.80 L1187.66,793.25 L1187.79,791.71 L1187.77,790.16 L1187.64,788.61 L1187.45,787.07 L1187.22,785.52 L1186.84,783.98 L1186.30,782.43 L1185.65,780.89 L1184.80,779.34 L1183.69,777.80 L1182.40,776.25 Z" fill="none" stroke="#000" stroke-width="5.2" stroke-linejoin="round" stroke-miterlimit="10"/>
<line x1="1148.14" y1="799.50" x2="1183.66" y2="799.50" stroke="#000" stroke-width="1.7" stroke-dasharray="6 3"/>
<rect x="1140.10" y="790.45" width="1.6" height="1.6" fill="#000"/><rect x="1190.10" y="790.45" width="1.6" height="1.6" fill="#000"/>
<path d="M1231.60,666.75 L1231.85,668.27 L1232.10,669.79 L1232.35,671.31 L1232.60,672.83 L1232.85,674.35 L1233.10,675.87 L1233.36,677.39 L1233.62,678.91 L1233.87,680.43 L1234.13,681.95 L1234.40,683.47 L1234.66,684.99 L1234.92,686.51 L1235.19,688.03 L1235.46,689.55 L1235.72,691.07 L1235.99,692.59 L1236.25,694.11 L1236.51,695.63 L1236.78,697.15 L1237.05,698.67 L1237.32,700.19 L1237.59,701.72 L1237.85,703.24 L1238.10,704.76 L1238.34,706.28 L1238.57,707.80 L1238.80,709.32 L1239.06,710.84 L1239.30,712.36 L1239.48,713.88 L1239.59,715.40 L1239.59,716.92 L1239.54,718.44 L1239.45,719.96 L1239.34,721.48 L1239.18,723.00 L1238.88,724.52 L1238.47,726.04 L1238.02,727.56 L1237.56,729.08 L1237.14,730.60 L1236.74,732.12 L1236.34,733.64 L1235.94,735.16 L1235.52,736.68 L1235.10,738.20 L1234.67,739.72 L1234.21,741.24 L1233.74,742.76 L1233.24,744.28 L1232.70,745.80 L1232.10,747.32 L1231.46,748.84 L1230.80,750.36 L1230.15,751.88 L1229.53,753.40 L1228.95,754.92 L1228.37,756.44 L1227.79,757.96 L1227.24,759.48 L1226.73,761.00 L1226.28,762.52 L1225.90,764.04 L1225.55,765.56 L1225.22,767.08 L1224.93,768.60 L1224.67,770.12 L1224.45,771.65 L1224.28,773.17 L1224.14,774.69 L1224.01,776.21 L1223.89,777.73 L1223.79,779.25 L1223.73,780.77 L1223.70,782.29 L1223.70,783.81 L1223.70,785.33 L1223.70,786.85 L1223.70,788.37 L1223.70,789.89 L1223.70,791.41 L1223.70,792.93 L1223.70,794.45 L1223.70,795.97 L1223.70,797.49 L1223.70,799.01 L1223.70,800.53 L1223.70,802.05 L1223.70,803.57 L1223.70,805.09 L1223.70,806.61 L1223.70,808.13 L1223.70,809.65 L1223.70,811.17 L1223.65,812.69 L1223.54,814.21 L1223.38,815.73 L1223.18,817.25 L1222.96,818.77 L1222.72,820.29 L1222.48,821.81 L1222.25,823.33 L1222.00,824.85 L1221.71,826.37 L1221.40,827.89 L1221.08,829.41 L1220.76,830.93 L1220.47,832.45 L1220.20,833.97 L1219.97,835.49 L1219.74,837.01 L1219.53,838.53 L1219.32,840.06 L1219.14,841.58 L1218.97,843.10 L1218.83,844.62 L1218.71,846.14 L1218.58,847.66 L1218.47,849.18 L1218.38,850.70 L1218.32,852.22 L1218.30,853.74 L1218.33,855.26 L1218.40,856.78 L1218.51,858.30 L1218.64,859.82 L1218.79,861.34 L1218.97,862.86 L1219.15,864.38 L1219.40,865.90 L1219.73,867.42 L1220.13,868.94 L1220.58,870.46 L1221.08,871.98 L1221.60,873.50 L1259.60,873.50 L1260.12,871.98 L1260.62,870.46 L1261.07,868.94 L1261.47,867.42 L1261.80,865.90 L1262.05,864.38 L1262.23,862.86 L1262.41,861.34 L1262.56,859.82 L1262.69,858.30 L1262.80,856.78 L1262.87,855.26 L1262.90,853.74 L1262.88,852.22 L1262.82,850.70 L1262.73,849.18 L1262.62,847.66 L1262.49,846.14 L1262.37,844.62 L1262.23,843.10 L1262.06,841.58 L1261.88,840.06 L1261.67,838.53 L1261.46,837.01 L1261.23,835.49 L1261.00,833.97 L1260.73,832.45 L1260.44,830.93 L1260.12,829.41 L1259.80,827.89 L1259.49,826.37 L1259.20,824.85 L1258.95,823.33 L1258.72,821.81 L1258.48,820.29 L1258.24,818.77 L1258.02,817.25 L1257.82,815.73 L1257.66,814.21 L1257.55,812.69 L1257.50,811.17 L1257.50,809.65 L1257.50,808.13 L1257.50,806.61 L1257.50,805.09 L1257.50,803.57 L1257.50,802.05 L1257.50,800.53 L1257.50,799.01 L1257.50,797.49 L1257.50,795.97 L1257.50,794.45 L1257.50,792.93 L1257.50,791.41 L1257.50,789.89 L1257.50,788.37 L1257.50,786.85 L1257.50,785.33 L1257.50,783.81 L1257.50,782.29 L1257.47,780.77 L1257.41,779.25 L1257.31,777.73 L1257.19,776.21 L1257.06,774.69 L1256.92,773.17 L1256.75,771.65 L1256.53,770.12 L1256.27,768.60 L1255.98,767.08 L1255.65,765.56 L1255.30,764.04 L1254.92,762.52 L1254.47,761.00 L1253.96,759.48 L1253.41,757.96 L1252.83,756.44 L1252.25,754.92 L1251.67,753.40 L1251.05,751.88 L1250.40,750.36 L1249.74,748.84 L1249.10,747.32 L1248.50,745.80 L1247.96,744.28 L1247.46,742.76 L1246.99,741.24 L1246.53,739.72 L1246.10,738.20 L1245.68,736.68 L1245.26,735.16 L1244.86,733.64 L1244.46,732.12 L1244.06,730.60 L1243.64,729.08 L1243.18,727.56 L1242.73,726.04 L1242.32,724.52 L1242.02,723.00 L1241.86,721.48 L1241.75,719.96 L1241.66,718.44 L1241.61,716.92 L1241.61,715.40 L1241.72,713.88 L1241.90,712.36 L1242.14,710.84 L1242.40,709.32 L1242.63,707.80 L1242.86,706.28 L1243.10,704.76 L1243.35,703.24 L1243.61,701.72 L1243.88,700.19 L1244.15,698.67 L1244.42,697.15 L1244.69,695.63 L1244.95,694.11 L1245.21,692.59 L1245.48,691.07 L1245.74,689.55 L1246.01,688.03 L1246.28,686.51 L1246.54,684.99 L1246.80,683.47 L1247.07,681.95 L1247.33,680.43 L1247.58,678.91 L1247.84,677.39 L1248.10,675.87 L1248.35,674.35 L1248.60,672.83 L1248.85,671.31 L1249.10,669.79 L1249.35,668.27 L1249.60,666.75 Z" fill="none" stroke="#000" stroke-width="5.2" stroke-linejoin="miter" stroke-miterlimit="10"/>
<line x1="1225.62" y1="816.25" x2="1255.58" y2="816.25" stroke="#000" stroke-width="1.7" stroke-dasharray="6 3"/>
<rect x="1219.80" y="810.20" width="1.6" height="1.6" fill="#000"/><rect x="1259.80" y="810.20" width="1.6" height="1.6" fill="#000"/>
<path d="M1325.05,781.50 L1325.59,783.04 L1326.13,784.59 L1326.67,786.13 L1327.20,787.68 L1327.73,789.23 L1328.27,790.77 L1328.84,792.32 L1329.41,793.86 L1329.96,795.40 L1330.43,796.95 L1330.81,798.50 L1331.18,800.04 L1331.53,801.59 L1331.82,803.13 L1332.03,804.67 L1332.10,806.22 L1332.05,807.76 L1331.92,809.31 L1331.74,810.86 L1331.51,812.40 L1331.27,813.95 L1331.02,815.49 L1330.73,817.03 L1330.39,818.58 L1330.00,820.12 L1329.58,821.67 L1329.14,823.22 L1328.67,824.76 L1328.18,826.31 L1327.62,827.85 L1327.02,829.39 L1326.39,830.94 L1325.74,832.49 L1325.10,834.03 L1324.46,835.58 L1323.79,837.12 L1323.09,838.67 L1322.40,840.21 L1321.73,841.75 L1321.14,843.30 L1320.62,844.85 L1320.12,846.39 L1319.66,847.94 L1319.28,849.48 L1319.00,851.03 L1318.78,852.57 L1318.58,854.12 L1318.42,855.66 L1318.32,857.21 L1318.30,858.75 L1318.34,860.30 L1318.43,861.84 L1318.55,863.38 L1318.69,864.93 L1318.85,866.48 L1319.09,868.02 L1319.40,869.57 L1319.79,871.11 L1320.22,872.66 L1320.70,874.20 L1359.90,874.20 L1360.38,872.66 L1360.81,871.11 L1361.20,869.57 L1361.51,868.02 L1361.75,866.48 L1361.91,864.93 L1362.05,863.38 L1362.17,861.84 L1362.26,860.30 L1362.30,858.75 L1362.28,857.21 L1362.18,855.66 L1362.02,854.12 L1361.82,852.57 L1361.60,851.03 L1361.32,849.48 L1360.94,847.94 L1360.48,846.39 L1359.98,844.85 L1359.46,843.30 L1358.87,841.75 L1358.20,840.21 L1357.51,838.67 L1356.81,837.12 L1356.14,835.58 L1355.50,834.03 L1354.86,832.49 L1354.21,830.94 L1353.58,829.39 L1352.98,827.85 L1352.42,826.31 L1351.93,824.76 L1351.46,823.22 L1351.02,821.67 L1350.60,820.12 L1350.21,818.58 L1349.87,817.03 L1349.58,815.49 L1349.33,813.95 L1349.09,812.40 L1348.86,810.86 L1348.68,809.31 L1348.55,807.76 L1348.50,806.22 L1348.57,804.67 L1348.78,803.13 L1349.07,801.59 L1349.42,800.04 L1349.79,798.50 L1350.17,796.95 L1350.64,795.40 L1351.19,793.86 L1351.76,792.32 L1352.33,790.77 L1352.87,789.23 L1353.40,787.68 L1353.93,786.13 L1354.47,784.59 L1355.01,783.04 L1355.55,781.50 Z" fill="none" stroke="#a6a6a6" stroke-width="5.2" stroke-linejoin="miter" stroke-miterlimit="10"/>
<line x1="1323.74" y1="842.50" x2="1356.86" y2="842.50" stroke="#000" stroke-width="1.7" stroke-dasharray="6 3"/>
<path d="M1404.10,802.00 L1404.60,803.58 L1405.09,805.16 L1405.58,806.74 L1406.07,808.32 L1406.56,809.90 L1407.04,811.48 L1407.54,813.06 L1408.08,814.64 L1408.62,816.23 L1409.11,817.81 L1409.49,819.39 L1409.75,820.97 L1409.99,822.55 L1410.19,824.13 L1410.34,825.71 L1410.40,827.29 L1410.27,828.87 L1409.87,830.45 L1409.29,832.03 L1408.65,833.61 L1407.97,835.19 L1407.08,836.77 L1406.07,838.35 L1405.02,839.93 L1404.01,841.51 L1403.06,843.09 L1402.10,844.67 L1401.14,846.26 L1400.21,847.84 L1399.31,849.42 L1398.47,851.00 L1397.66,852.58 L1396.88,854.16 L1396.12,855.74 L1395.39,857.32 L1394.70,858.90 L1435.30,858.90 L1434.61,857.32 L1433.88,855.74 L1433.12,854.16 L1432.34,852.58 L1431.53,851.00 L1430.69,849.42 L1429.79,847.84 L1428.86,846.26 L1427.90,844.67 L1426.94,843.09 L1425.99,841.51 L1424.98,839.93 L1423.93,838.35 L1422.92,836.77 L1422.03,835.19 L1421.35,833.61 L1420.71,832.03 L1420.13,830.45 L1419.73,828.87 L1419.60,827.29 L1419.66,825.71 L1419.81,824.13 L1420.01,822.55 L1420.25,820.97 L1420.51,819.39 L1420.89,817.81 L1421.38,816.23 L1421.92,814.64 L1422.46,813.06 L1422.96,811.48 L1423.44,809.90 L1423.93,808.32 L1424.42,806.74 L1424.91,805.16 L1425.40,803.58 L1425.90,802.00 Z" fill="none" stroke="#a6a6a6" stroke-width="5.2" stroke-linejoin="miter" stroke-miterlimit="10"/>
<text x="1046.5" y="723" font-size="28" font-weight="normal" text-anchor="middle" transform="rotate(-90 1046.5 723)" textLength="286" lengthAdjust="spacingAndGlyphs">Comet tail intensity (%)</text>
<text x="1171.30" y="931.30" font-size="26.5" font-weight="bold" text-anchor="end" transform="rotate(-45 1171.30 931.30)" >Ex-Pre</text>
<text x="1246.80" y="931.30" font-size="26.5" font-weight="bold" text-anchor="end" transform="rotate(-45 1246.80 931.30)" >Ex-Post</text>
<text x="1346.30" y="931.30" font-size="26.5" font-weight="bold" text-anchor="end" transform="rotate(-45 1346.30 931.30)" >Con-Pre</text>
<text x="1421.30" y="931.30" font-size="26.5" font-weight="bold" text-anchor="end" transform="rotate(-45 1421.30 931.30)" >Con-Post</text>
<text x="1514.00" y="518.75" font-size="33.5" font-weight="normal" text-anchor="start" >E.</text>
<line x1="1614.70" y1="546.20" x2="1614.70" y2="897.10" stroke="#000" stroke-width="3.6" />
<line x1="1600.25" y1="897.10" x2="1965.00" y2="897.10" stroke="#000" stroke-width="3.7" />
<line x1="1664.00" y1="897.10" x2="1664.00" y2="912.00" stroke="#000" stroke-width="3.3" />
<line x1="1739.00" y1="897.10" x2="1739.00" y2="912.00" stroke="#000" stroke-width="3.3" />
<line x1="1838.50" y1="897.10" x2="1838.50" y2="912.00" stroke="#000" stroke-width="3.3" />
<line x1="1913.50" y1="897.10" x2="1913.50" y2="912.00" stroke="#000" stroke-width="3.3" />
<line x1="1600.25" y1="548.00" x2="1614.70" y2="548.00" stroke="#000" stroke-width="3.3" />
<text x="1596.80" y="557.80" font-size="27" font-weight="bold" text-anchor="end" >600</text>
<line x1="1600.25" y1="664.25" x2="1614.70" y2="664.25" stroke="#000" stroke-width="3.3" />
<text x="1596.80" y="674.05" font-size="27" font-weight="bold" text-anchor="end" >400</text>
<line x1="1600.25" y1="780.75" x2="1614.70" y2="780.75" stroke="#000" stroke-width="3.3" />
<text x="1596.80" y="790.55" font-size="27" font-weight="bold" text-anchor="end" >200</text>
<text x="1596.80" y="906.90" font-size="27" font-weight="bold" text-anchor="end" >0</text>
<line x1="1617.00" y1="897.10" x2="1965.00" y2="897.10" stroke="#000" stroke-width="4.6" stroke-dasharray="3.5 3.5"/>
<path d="M1658.90,770.00 L1659.60,771.56 L1660.23,773.12 L1660.78,774.69 L1661.22,776.25 L1661.53,777.81 L1661.69,779.38 L1661.69,780.94 L1661.63,782.50 L1661.52,784.06 L1661.38,785.62 L1661.21,787.19 L1661.04,788.75 L1660.87,790.31 L1660.67,791.88 L1660.45,793.44 L1660.21,795.00 L1659.93,796.56 L1659.64,798.12 L1659.33,799.69 L1659.00,801.25 L1658.67,802.81 L1658.32,804.38 L1657.96,805.94 L1657.60,807.50 L1657.25,809.06 L1656.89,810.62 L1656.48,812.19 L1655.98,813.75 L1655.35,815.31 L1654.30,816.88 L1652.88,818.44 L1651.33,820.00 L1649.86,821.56 L1648.53,823.12 L1647.04,824.69 L1645.54,826.25 L1644.22,827.81 L1643.28,829.38 L1642.90,830.94 L1643.00,832.50 L1643.27,834.06 L1643.76,835.62 L1645.08,837.19 L1647.00,838.75 L1682.00,838.75 L1683.92,837.19 L1685.24,835.62 L1685.73,834.06 L1686.00,832.50 L1686.10,830.94 L1685.72,829.38 L1684.78,827.81 L1683.46,826.25 L1681.96,824.69 L1680.47,823.12 L1679.14,821.56 L1677.67,820.00 L1676.12,818.44 L1674.70,816.88 L1673.65,815.31 L1673.02,813.75 L1672.52,812.19 L1672.11,810.62 L1671.75,809.06 L1671.40,807.50 L1671.04,805.94 L1670.68,804.38 L1670.33,802.81 L1670.00,801.25 L1669.67,799.69 L1669.36,798.12 L1669.07,796.56 L1668.79,795.00 L1668.55,793.44 L1668.33,791.88 L1668.13,790.31 L1667.96,788.75 L1667.79,787.19 L1667.62,785.62 L1667.48,784.06 L1667.37,782.50 L1667.31,780.94 L1667.31,779.38 L1667.47,777.81 L1667.78,776.25 L1668.22,774.69 L1668.77,773.12 L1669.40,771.56 L1670.10,770.00 Z" fill="none" stroke="#000" stroke-width="5.2" stroke-linejoin="miter" stroke-miterlimit="10"/>
<line x1="1645.63" y1="829.25" x2="1683.37" y2="829.25" stroke="#000" stroke-width="1.7" stroke-dasharray="6 3"/>
<path d="M1731.50,783.75 L1732.21,785.31 L1732.89,786.87 L1733.55,788.43 L1734.17,789.99 L1734.77,791.55 L1735.34,793.11 L1735.89,794.67 L1736.46,796.23 L1737.07,797.79 L1737.58,799.35 L1737.80,800.91 L1737.58,802.47 L1736.99,804.03 L1736.21,805.59 L1735.27,807.15 L1733.87,808.71 L1732.17,810.27 L1730.34,811.83 L1728.58,813.39 L1727.05,814.95 L1725.69,816.51 L1724.34,818.07 L1723.03,819.62 L1721.81,821.18 L1720.73,822.74 L1719.83,824.30 L1719.11,825.86 L1718.42,827.42 L1717.80,828.98 L1717.34,830.54 L1717.11,832.10 L1717.10,833.66 L1717.12,835.22 L1717.14,836.78 L1717.18,838.34 L1717.24,839.90 L1717.30,841.46 L1717.38,843.02 L1717.47,844.58 L1717.68,846.14 L1718.23,847.70 L1719.01,849.26 L1719.90,850.82 L1720.96,852.38 L1722.37,853.94 L1724.00,855.50 L1754.00,855.50 L1755.63,853.94 L1757.04,852.38 L1758.10,850.82 L1758.99,849.26 L1759.77,847.70 L1760.32,846.14 L1760.53,844.58 L1760.62,843.02 L1760.70,841.46 L1760.76,839.90 L1760.82,838.34 L1760.86,836.78 L1760.88,835.22 L1760.90,833.66 L1760.89,832.10 L1760.66,830.54 L1760.20,828.98 L1759.58,827.42 L1758.89,825.86 L1758.17,824.30 L1757.27,822.74 L1756.19,821.18 L1754.97,819.62 L1753.66,818.07 L1752.31,816.51 L1750.95,814.95 L1749.42,813.39 L1747.66,811.83 L1745.83,810.27 L1744.13,808.71 L1742.73,807.15 L1741.79,805.59 L1741.01,804.03 L1740.42,802.47 L1740.20,800.91 L1740.42,799.35 L1740.93,797.79 L1741.54,796.23 L1742.11,794.67 L1742.66,793.11 L1743.23,791.55 L1743.83,789.99 L1744.45,788.43 L1745.11,786.87 L1745.79,785.31 L1746.50,783.75 Z" fill="none" stroke="#000" stroke-width="5.2" stroke-linejoin="miter" stroke-miterlimit="10"/>
<line x1="1719.41" y1="834.00" x2="1758.59" y2="834.00" stroke="#000" stroke-width="1.7" stroke-dasharray="6 3"/>
<path d="M1828.20,589.50 L1828.26,591.02 L1828.32,592.53 L1828.38,594.05 L1828.44,595.57 L1828.50,597.08 L1828.56,598.60 L1828.62,600.11 L1828.68,601.63 L1828.73,603.15 L1828.79,604.66 L1828.85,606.18 L1828.91,607.70 L1828.97,609.21 L1829.03,610.73 L1829.08,612.25 L1829.14,613.76 L1829.19,615.28 L1829.25,616.79 L1829.30,618.31 L1829.35,619.83 L1829.41,621.34 L1829.46,622.86 L1829.52,624.38 L1829.58,625.89 L1829.64,627.41 L1829.71,628.93 L1829.77,630.44 L1829.85,631.96 L1829.92,633.47 L1830.01,634.99 L1830.09,636.51 L1830.18,638.02 L1830.27,639.54 L1830.37,641.06 L1830.47,642.57 L1830.57,644.09 L1830.67,645.61 L1830.77,647.12 L1830.87,648.64 L1830.98,650.15 L1831.08,651.67 L1831.18,653.19 L1831.28,654.70 L1831.38,656.22 L1831.48,657.74 L1831.59,659.25 L1831.70,660.77 L1831.81,662.29 L1831.93,663.80 L1832.04,665.32 L1832.15,666.84 L1832.26,668.35 L1832.37,669.87 L1832.48,671.38 L1832.58,672.90 L1832.68,674.42 L1832.78,675.93 L1832.87,677.45 L1832.95,678.97 L1833.02,680.48 L1833.10,682.00 L1833.18,683.52 L1833.26,685.03 L1833.34,686.55 L1833.42,688.06 L1833.49,689.58 L1833.55,691.10 L1833.60,692.61 L1833.65,694.13 L1833.68,695.65 L1833.70,697.16 L1833.70,698.68 L1833.69,700.20 L1833.66,701.71 L1833.63,703.23 L1833.58,704.74 L1833.53,706.26 L1833.47,707.78 L1833.40,709.29 L1833.32,710.81 L1833.25,712.33 L1833.16,713.84 L1833.08,715.36 L1832.97,716.88 L1832.84,718.39 L1832.68,719.91 L1832.50,721.42 L1832.30,722.94 L1832.08,724.46 L1831.85,725.97 L1831.60,727.49 L1831.35,729.01 L1831.09,730.52 L1830.82,732.04 L1830.55,733.56 L1830.29,735.07 L1830.00,736.59 L1829.69,738.10 L1829.36,739.62 L1829.00,741.14 L1828.63,742.65 L1828.25,744.17 L1827.87,745.69 L1827.49,747.20 L1827.11,748.72 L1826.74,750.24 L1826.38,751.75 L1826.05,753.27 L1825.73,754.78 L1825.42,756.30 L1825.12,757.82 L1824.82,759.33 L1824.53,760.85 L1824.24,762.37 L1823.95,763.88 L1823.67,765.40 L1823.38,766.92 L1823.10,768.43 L1822.81,769.95 L1822.52,771.46 L1822.22,772.98 L1821.92,774.50 L1821.62,776.01 L1821.33,777.53 L1821.04,779.05 L1820.77,780.56 L1820.50,782.08 L1820.26,783.60 L1820.03,785.11 L1819.81,786.63 L1819.59,788.15 L1819.38,789.66 L1819.17,791.18 L1818.98,792.69 L1818.79,794.21 L1818.61,795.73 L1818.45,797.24 L1818.31,798.76 L1818.18,800.28 L1818.06,801.79 L1817.94,803.31 L1817.82,804.83 L1817.72,806.34 L1817.62,807.86 L1817.53,809.37 L1817.45,810.89 L1817.38,812.41 L1817.32,813.92 L1817.28,815.44 L1817.23,816.96 L1817.19,818.47 L1817.15,819.99 L1817.11,821.51 L1817.08,823.02 L1817.05,824.54 L1817.03,826.05 L1817.01,827.57 L1817.00,829.09 L1817.00,830.60 L1817.00,832.12 L1817.00,833.64 L1817.00,835.15 L1817.00,836.67 L1817.00,838.19 L1817.00,839.70 L1817.00,841.22 L1817.00,842.73 L1817.00,844.25 L1817.00,845.77 L1817.00,847.28 L1817.00,848.80 L1860.60,848.80 L1860.60,847.28 L1860.60,845.77 L1860.60,844.25 L1860.60,842.73 L1860.60,841.22 L1860.60,839.70 L1860.60,838.19 L1860.60,836.67 L1860.60,835.15 L1860.60,833.64 L1860.60,832.12 L1860.60,830.60 L1860.60,829.09 L1860.59,827.57 L1860.57,826.05 L1860.55,824.54 L1860.52,823.02 L1860.49,821.51 L1860.45,819.99 L1860.41,818.47 L1860.37,816.96 L1860.32,815.44 L1860.28,813.92 L1860.22,812.41 L1860.15,810.89 L1860.07,809.37 L1859.98,807.86 L1859.88,806.34 L1859.78,804.83 L1859.66,803.31 L1859.54,801.79 L1859.42,800.28 L1859.29,798.76 L1859.15,797.24 L1858.99,795.73 L1858.81,794.21 L1858.62,792.69 L1858.43,791.18 L1858.22,789.66 L1858.01,788.15 L1857.79,786.63 L1857.57,785.11 L1857.34,783.60 L1857.10,782.08 L1856.83,780.56 L1856.56,779.05 L1856.27,777.53 L1855.98,776.01 L1855.68,774.50 L1855.38,772.98 L1855.08,771.46 L1854.79,769.95 L1854.50,768.43 L1854.22,766.92 L1853.93,765.40 L1853.65,763.88 L1853.36,762.37 L1853.07,760.85 L1852.78,759.33 L1852.48,757.82 L1852.18,756.30 L1851.87,754.78 L1851.55,753.27 L1851.22,751.75 L1850.86,750.24 L1850.49,748.72 L1850.11,747.20 L1849.73,745.69 L1849.35,744.17 L1848.97,742.65 L1848.60,741.14 L1848.24,739.62 L1847.91,738.10 L1847.60,736.59 L1847.31,735.07 L1847.05,733.56 L1846.78,732.04 L1846.51,730.52 L1846.25,729.01 L1846.00,727.49 L1845.75,725.97 L1845.52,724.46 L1845.30,722.94 L1845.10,721.42 L1844.92,719.91 L1844.76,718.39 L1844.63,716.88 L1844.52,715.36 L1844.44,713.84 L1844.35,712.33 L1844.28,710.81 L1844.20,709.29 L1844.13,707.78 L1844.07,706.26 L1844.02,704.74 L1843.97,703.23 L1843.94,701.71 L1843.91,700.20 L1843.90,698.68 L1843.90,697.16 L1843.92,695.65 L1843.95,694.13 L1844.00,692.61 L1844.05,691.10 L1844.11,689.58 L1844.18,688.06 L1844.26,686.55 L1844.34,685.03 L1844.42,683.52 L1844.50,682.00 L1844.58,680.48 L1844.65,678.97 L1844.73,677.45 L1844.82,675.93 L1844.92,674.42 L1845.02,672.90 L1845.12,671.38 L1845.23,669.87 L1845.34,668.35 L1845.45,666.84 L1845.56,665.32 L1845.67,663.80 L1845.79,662.29 L1845.90,660.77 L1846.01,659.25 L1846.12,657.74 L1846.22,656.22 L1846.32,654.70 L1846.42,653.19 L1846.52,651.67 L1846.62,650.15 L1846.73,648.64 L1846.83,647.12 L1846.93,645.61 L1847.03,644.09 L1847.13,642.57 L1847.23,641.06 L1847.33,639.54 L1847.42,638.02 L1847.51,636.51 L1847.59,634.99 L1847.68,633.47 L1847.75,631.96 L1847.83,630.44 L1847.89,628.93 L1847.96,627.41 L1848.02,625.89 L1848.08,624.38 L1848.14,622.86 L1848.19,621.34 L1848.25,619.83 L1848.30,618.31 L1848.35,616.79 L1848.41,615.28 L1848.46,613.76 L1848.52,612.25 L1848.57,610.73 L1848.63,609.21 L1848.69,607.70 L1848.75,606.18 L1848.81,604.66 L1848.87,603.15 L1848.92,601.63 L1848.98,600.11 L1849.04,598.60 L1849.10,597.08 L1849.16,595.57 L1849.22,594.05 L1849.28,592.53 L1849.34,591.02 L1849.40,589.50 Z" fill="none" stroke="#a6a6a6" stroke-width="5.2" stroke-linejoin="miter" stroke-miterlimit="10"/>
<line x1="1819.30" y1="831.25" x2="1858.30" y2="831.25" stroke="#000" stroke-width="1.7" stroke-dasharray="6 3"/>
<path d="M1902.00,801.75 L1902.85,802.98 L1903.67,804.22 L1904.47,805.45 L1905.23,806.68 L1905.95,807.91 L1906.72,809.15 L1907.56,810.38 L1908.36,811.61 L1909.00,812.84 L1909.36,814.08 L1909.39,815.31 L1909.32,816.54 L1909.21,817.78 L1909.05,819.01 L1908.85,820.24 L1908.36,821.47 L1907.52,822.71 L1906.46,823.94 L1905.29,825.17 L1904.09,826.41 L1902.62,827.64 L1900.93,828.87 L1899.19,830.10 L1897.55,831.34 L1895.63,832.57 L1893.65,833.80 L1892.11,835.03 L1891.50,836.27 L1892.50,837.50 L1934.50,837.50 L1935.50,836.27 L1934.89,835.03 L1933.35,833.80 L1931.37,832.57 L1929.45,831.34 L1927.81,830.10 L1926.07,828.87 L1924.38,827.64 L1922.91,826.41 L1921.71,825.17 L1920.54,823.94 L1919.48,822.71 L1918.64,821.47 L1918.15,820.24 L1917.95,819.01 L1917.79,817.78 L1917.68,816.54 L1917.61,815.31 L1917.64,814.08 L1918.00,812.84 L1918.64,811.61 L1919.44,810.38 L1920.28,809.15 L1921.05,807.91 L1921.77,806.68 L1922.53,805.45 L1923.33,804.22 L1924.15,802.98 L1925.00,801.75 Z" fill="none" stroke="#a6a6a6" stroke-width="5.2" stroke-linejoin="round" stroke-miterlimit="10"/>
<line x1="1894.44" y1="835.00" x2="1932.56" y2="835.00" stroke="#000" stroke-width="1.7" stroke-dasharray="6 3"/>
<text x="1523.5" y="723.6" font-size="19.3" font-weight="bold" text-anchor="middle" transform="rotate(-90 1523.5 723.6)" textLength="369.8" lengthAdjust="spacingAndGlyphs">Carbonyl concentration (nmol/mg protein)</text>
<text x="1670.30" y="932.10" font-size="26.5" font-weight="bold" text-anchor="end" transform="rotate(-45 1670.30 932.10)" >Ex-Pre</text>
<text x="1745.30" y="932.10" font-size="26.5" font-weight="bold" text-anchor="end" transform="rotate(-45 1745.30 932.10)" >Ex-Post</text>
<text x="1844.80" y="932.10" font-size="26.5" font-weight="bold" text-anchor="end" transform="rotate(-45 1844.80 932.10)" >Con-Pre</text>
<text x="1919.80" y="932.10" font-size="26.5" font-weight="bold" text-anchor="end" transform="rotate(-45 1919.80 932.10)" >Con-Post</text>
</svg>
</body></html>
